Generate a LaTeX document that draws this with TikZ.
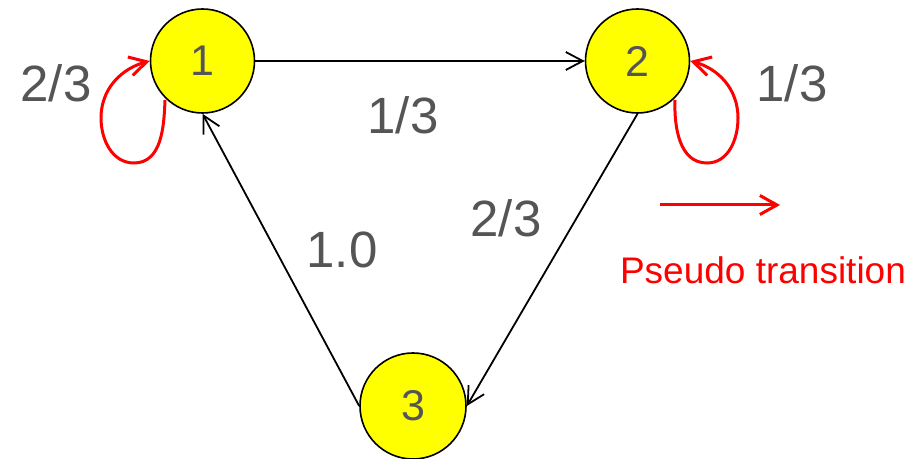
\documentclass[tikz,border=0pt]{standalone}
\usepackage{fontspec}
\setmainfont{Liberation Sans}
\usetikzlibrary{arrows.meta}
\definecolor{txtgray}{HTML}{555555}
\definecolor{pureyellow}{RGB}{255,255,0}
\tikzset{
  state/.style={circle,draw=black,line width=1.6pt,fill=pureyellow,minimum size=104pt,inner sep=0pt,
    text=txtgray,font=\fontsize{43}{43}\selectfont},
  edgelbl/.style={text=txtgray,font=\fontsize{51}{51}\selectfont,inner sep=0pt},
  trans/.style={draw=black,line width=1.8pt,-{Straight Barb[length=17pt,width=18pt]}},
  pseudo/.style={draw=red,line width=3pt,-{Straight Barb[length=17pt,width=19pt]}},
}
\begin{document}
\begin{tikzpicture}[x=1pt,y=1pt]
\useasboundingbox (0,0) rectangle (918,458);
\node[state] (n1) at (202.5,397) {1};
\node[state] (n2) at (637.5,397) {2};
\node[state,minimum size=106pt] (n3) at (413,52) {3};
\draw[trans] (n1.east) -- (n2.west);
\draw[trans] (n2.south) -- (n3.east);
\draw[trans] (n3.west) -- (n1.south);
\node[edgelbl] (l12) at (403,343) {1/3};
\node[edgelbl] (l23) at (506,240) {2/3};
\node[edgelbl] (l31) at (342,208) {1.0};
\node[edgelbl] (l11) at (56,375) {2/3};
\node[edgelbl] (l22) at (792,375) {1/3};
\coordinate (s1) at (165,358);
\coordinate (s2) at (675,358);
\draw[pseudo] (s1) to[out=-92,in=0] (134,295) to[out=180,in=-90] (101,340) to[out=90,in=195] (n1.west);
\draw[pseudo] (s2) to[out=-92,in=180] (707,295) to[out=0,in=-90] (738,340) to[out=90,in=-15] (n2.east);
\coordinate (pa) at (660,253);
\coordinate (pb) at (780,253);
\draw[pseudo] (pa) -- (pb);
\node[text=red,font=\fontsize{37}{37}\selectfont,inner sep=0pt] (pt) at (763,188) {Pseudo transition};
\end{tikzpicture}
\end{document}
